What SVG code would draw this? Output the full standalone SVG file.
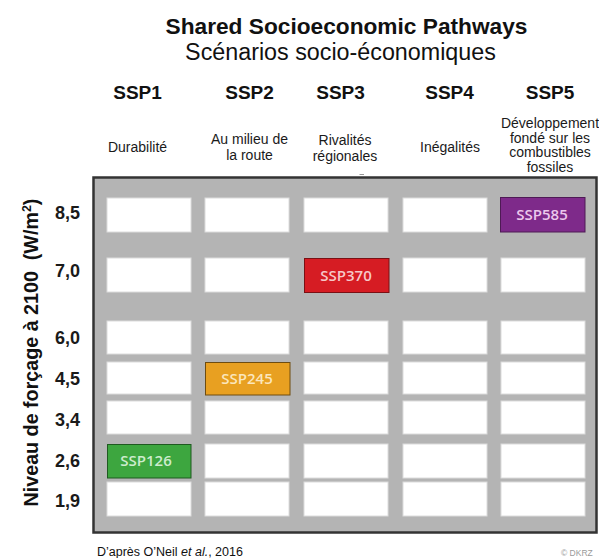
<svg xmlns="http://www.w3.org/2000/svg" width="599" height="558" viewBox="0 0 599 558">
<style>
.t{font-family:"Liberation Sans",Arial,sans-serif;fill:#111}
.b{font-weight:bold}
.ax{font-family:"Liberation Sans",Arial,sans-serif;font-weight:bold;font-size:18px;fill:#1a1a1a;text-anchor:end}
.hd{font-family:"Liberation Sans",Arial,sans-serif;font-weight:bold;font-size:19px;fill:#111;text-anchor:middle}
.sub{font-family:"Liberation Sans",Arial,sans-serif;font-size:14px;fill:#1a1a1a;text-anchor:middle}
.cell{fill:#fff;stroke:#dcdcdc;stroke-width:1}
.lab{font-family:"Open Sans","Liberation Sans",sans-serif;font-weight:600;font-size:15px;text-anchor:middle}
</style>
<rect width="599" height="558" fill="#fff"/>
<g id="title">
<text class="t b" x="346.5" y="34" font-size="22.7" text-anchor="middle">Shared Socioeconomic Pathways</text>
<text class="t" x="340.5" y="60" font-size="23.3" text-anchor="middle">Scénarios socio-économiques</text>
</g>
<g id="headers">
<text class="hd" x="137.5" y="99">SSP1</text>
<text class="hd" x="249.5" y="99">SSP2</text>
<text class="hd" x="340.5" y="99">SSP3</text>
<text class="hd" x="449.5" y="99">SSP4</text>
<text class="hd" x="550" y="99">SSP5</text>
<text class="sub" x="137.5" y="152">Durabilité</text>
<text class="sub" x="249.5" y="144">Au milieu de</text>
<text class="sub" x="249.5" y="159.5">la route</text>
<text class="sub" x="345" y="145">Rivalités</text>
<text class="sub" x="345" y="160.5">régionales</text>
<text class="sub" x="450" y="152">Inégalités</text>
<text class="sub" x="550" y="128" font-size="13">Développement</text>
<text class="sub" x="550" y="142.5" font-size="13">fondé sur les</text>
<text class="sub" x="550" y="157" font-size="13">combustibles</text>
<text class="sub" x="550" y="171.5" font-size="13">fossiles</text>
<line x1="359.5" y1="174.5" x2="364" y2="174.5" stroke="#999" stroke-width="1"/>
</g>
<g id="yaxis">
<text class="t b" x="38" y="352.5" font-size="19.7" text-anchor="middle" transform="rotate(-90 38 352.5)" xml:space="preserve">Niveau de forçage à 2100  (W/m<tspan font-size="12.5" dy="-7">2</tspan><tspan dy="7">)</tspan></text>
<text class="ax" x="80" y="218.5">8,5</text>
<text class="ax" x="80" y="277">7,0</text>
<text class="ax" x="80" y="343.5">6,0</text>
<text class="ax" x="80" y="385">4,5</text>
<text class="ax" x="80" y="426">3,4</text>
<text class="ax" x="80" y="467">2,6</text>
<text class="ax" x="80" y="506.5">1,9</text>
</g>
<g id="panel">
<rect x="93.5" y="177.5" width="503" height="355" fill="#b4b4b4" stroke="#333" stroke-width="2.5"/>
</g>
<g id="cells">
<rect class="cell" x="107" y="198" width="84" height="34"/>
<rect class="cell" x="205" y="198" width="84" height="34"/>
<rect class="cell" x="304" y="198" width="84" height="34"/>
<rect class="cell" x="403" y="198" width="84" height="34"/>
<rect class="cell" x="107" y="258" width="84" height="34"/>
<rect class="cell" x="205" y="258" width="84" height="34"/>
<rect class="cell" x="403" y="258" width="84" height="34"/>
<rect class="cell" x="501" y="258" width="84" height="34"/>
<rect class="cell" x="107" y="321" width="84" height="33"/>
<rect class="cell" x="205" y="321" width="84" height="33"/>
<rect class="cell" x="304" y="321" width="84" height="33"/>
<rect class="cell" x="403" y="321" width="84" height="33"/>
<rect class="cell" x="501" y="321" width="84" height="33"/>
<rect class="cell" x="107" y="362" width="84" height="32"/>
<rect class="cell" x="304" y="362" width="84" height="32"/>
<rect class="cell" x="403" y="362" width="84" height="32"/>
<rect class="cell" x="501" y="362" width="84" height="32"/>
<rect class="cell" x="107" y="401" width="84" height="33"/>
<rect class="cell" x="205" y="401" width="84" height="33"/>
<rect class="cell" x="304" y="401" width="84" height="33"/>
<rect class="cell" x="403" y="401" width="84" height="33"/>
<rect class="cell" x="501" y="401" width="84" height="33"/>
<rect class="cell" x="205" y="444" width="84" height="34"/>
<rect class="cell" x="304" y="444" width="84" height="34"/>
<rect class="cell" x="403" y="444" width="84" height="34"/>
<rect class="cell" x="501" y="444" width="84" height="34"/>
<rect class="cell" x="107" y="482" width="84" height="34"/>
<rect class="cell" x="205" y="482" width="84" height="34"/>
<rect class="cell" x="304" y="482" width="84" height="34"/>
<rect class="cell" x="403" y="482" width="84" height="34"/>
<rect class="cell" x="501" y="482" width="84" height="34"/>
</g>
<g id="ssp585">
<rect x="500.5" y="197.5" width="84.5" height="34.5" fill="#7e2a8a" stroke="#4e1a55" stroke-width="1"/>
<text class="lab" x="542" y="220" fill="#ecc8ec">SSP585</text>
</g>
<g id="ssp370">
<rect x="304.5" y="258.5" width="84.5" height="34" fill="#d61c23" stroke="#7a1014" stroke-width="1"/>
<text class="lab" x="346" y="281" fill="#f6c8c8">SSP370</text>
</g>
<g id="ssp245">
<rect x="205.5" y="362.5" width="84.5" height="32.5" fill="#e8a021" stroke="#6e4c10" stroke-width="1"/>
<text class="lab" x="247" y="384" fill="#fbe6bc">SSP245</text>
</g>
<g id="ssp126">
<rect x="107.5" y="444.5" width="83.5" height="33.5" fill="#3da63f" stroke="#1f5a20" stroke-width="1"/>
<text class="lab" x="146" y="466" fill="#cdeccd">SSP126</text>
</g>
<g id="footer">
<text class="t" x="97" y="556" font-size="12.5">D’après O’Neil <tspan font-style="italic">et al.</tspan>, 2016</text>
<text x="561" y="556" font-family="'Liberation Sans',Arial,sans-serif" font-size="8.5" fill="#9a9a9a">© DKRZ</text>
</g>
</svg>
